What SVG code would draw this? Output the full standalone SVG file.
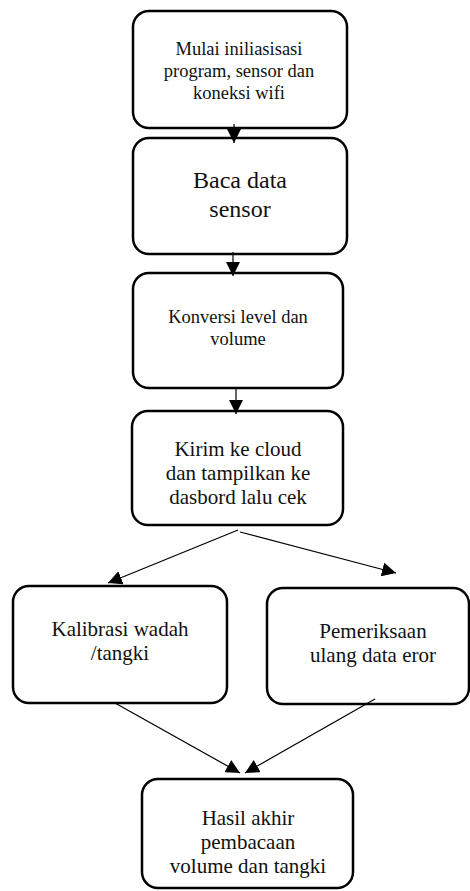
<svg xmlns="http://www.w3.org/2000/svg" width="470" height="891" viewBox="0 0 470 891">
<style>
.box{fill:#fff;stroke:#000;stroke-width:2.5}
.t{font-family:"Liberation Serif","Times New Roman",serif;fill:#111;text-anchor:middle}
.c{stroke:#000;stroke-width:1.2;fill:none;marker-end:url(#ah)}
</style>
<defs>
<marker id="ah" markerUnits="userSpaceOnUse" markerWidth="14" markerHeight="14" viewBox="0 0 14 14" refX="14" refY="7" orient="auto">
<path d="M0,0 L14,7 L0,14 z" fill="#000"/>
</marker>
</defs>
<rect width="470" height="891" fill="#fff"/>
<g id="n1">
<rect class="box" x="133" y="11" width="214" height="117" rx="16"/>
<text class="t" font-size="18.5"><tspan x="239" y="55">Mulai iniliasisasi</tspan><tspan x="239" y="77">program, sensor dan</tspan><tspan x="239" y="99">koneksi wifi</tspan></text>
</g>
<g id="n2">
<rect class="box" x="133" y="138" width="214" height="116" rx="16"/>
<text class="t" font-size="24"><tspan x="240" y="188">Baca data</tspan><tspan x="240" y="217">sensor</tspan></text>
</g>
<g id="n3">
<rect class="box" x="133" y="273" width="210" height="115" rx="16"/>
<text class="t" font-size="18.5"><tspan x="238" y="323">Konversi level dan</tspan><tspan x="238" y="345">volume</tspan></text>
</g>
<g id="n4">
<rect class="box" x="132" y="411" width="211" height="114" rx="16"/>
<text class="t" font-size="21"><tspan x="238" y="456">Kirim ke cloud</tspan><tspan x="238" y="480">dan tampilkan ke</tspan><tspan x="238" y="504">dasbord lalu cek</tspan></text>
</g>
<g id="n5">
<rect class="box" x="13" y="586" width="214" height="117" rx="16"/>
<text class="t" font-size="21"><tspan x="120" y="636">Kalibrasi wadah</tspan><tspan x="120" y="660">/tangki</tspan></text>
</g>
<g id="n6">
<rect class="box" x="267" y="588" width="202" height="116" rx="16"/>
<text class="t" font-size="21"><tspan x="373" y="638">Pemeriksaan</tspan><tspan x="373" y="662">ulang data eror</tspan></text>
</g>
<g id="n7">
<rect class="box" x="142" y="779" width="211" height="109" rx="16"/>
<text class="t" font-size="21"><tspan x="248" y="825">Hasil akhir</tspan><tspan x="248" y="849">pembacaan</tspan><tspan x="248" y="873">volume dan tangki</tspan></text>
</g>
<g id="connectors">
<path class="c" d="M234,124 L234,143"/>
<path class="c" d="M233,252 L233,276"/>
<path class="c" d="M236,389 L236,414"/>
<path class="c" d="M238,530 L108,583"/>
<path class="c" d="M240,532 L396,573"/>
<path class="c" d="M115,703 L240,773"/>
<path class="c" d="M375,699 L245,773"/>
</g>
</svg>
